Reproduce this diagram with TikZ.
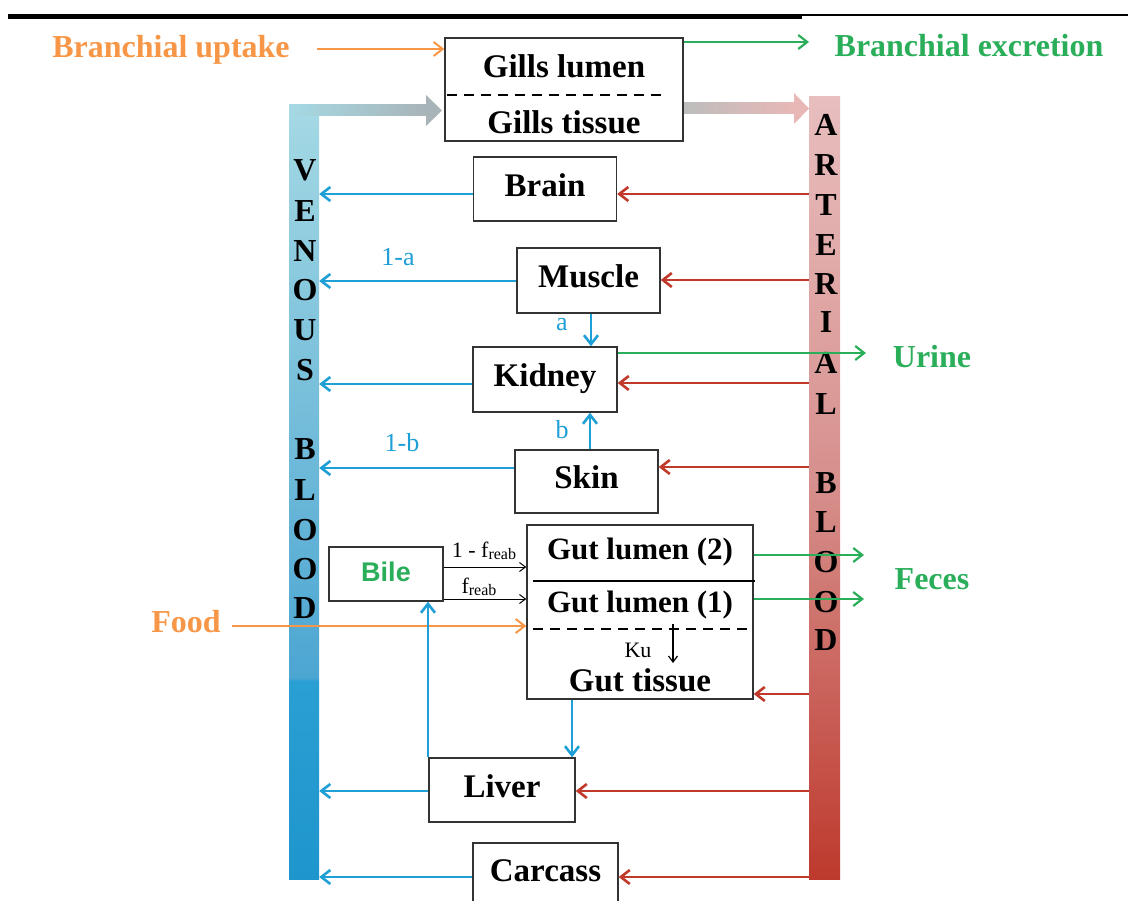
\documentclass[tikz,border=0pt]{standalone}
\usepackage{fontspec}
\setmainfont{Liberation Serif}
\newfontfamily\sansbf{Liberation Sans}
\usetikzlibrary{arrows.meta}
\definecolor{cblue}{HTML}{1E9FD6}
\definecolor{cred}{HTML}{C0392B}
\definecolor{cgreen}{HTML}{2BAE5A}
\definecolor{corange}{HTML}{F79646}
\definecolor{vt}{HTML}{A5D9E4}
\definecolor{vm}{HTML}{4CA6D2}
\definecolor{vl}{HTML}{2A9FD3}
\definecolor{vb}{HTML}{1E95CD}
\definecolor{at}{HTML}{E8BEBE}
\definecolor{am}{HTML}{D68F8C}
\definecolor{ab}{HTML}{BE392D}
\definecolor{gshaft}{HTML}{A8B4B8}
\definecolor{pshaft}{HTML}{BDBDBD}
\definecolor{pink}{HTML}{E8B8B6}
\definecolor{boxc}{HTML}{333333}
\pgfdeclareverticalshading{venshade}{100bp}{color(0bp)=(vb); color(25bp)=(vb); color(37.8bp)=(vl); color(38bp)=(vm); color(75bp)=(vt); color(100bp)=(vt)}
\pgfdeclareverticalshading{artshade}{100bp}{color(0bp)=(ab); color(25bp)=(ab); color(50bp)=(am); color(75bp)=(at); color(100bp)=(at)}
\newcommand\boxfont{\fontsize{33}{38}\selectfont\bfseries}
\newcommand\gutfont{\fontsize{31}{36}\selectfont\bfseries}
\newcommand\bigfont{\fontsize{32}{36}\selectfont\bfseries}
\newcommand\smallfont{\fontsize{26}{30}\selectfont}
\tikzset{
  box/.style={draw=boxc, line width=1.4, fill=white, inner sep=0pt, font=\boxfont, text depth=8pt},
  barr/.style={draw=cblue, line width=2.6, -{Straight Barb[length=9pt,width=14pt]}},
  rarr/.style={draw=cred, line width=2.6, -{Straight Barb[length=9pt,width=14pt]}},
  garr/.style={draw=cgreen, line width=2.2, -{Straight Barb[length=9pt,width=14pt]}},
  oarr/.style={draw=corange, line width=2, -{Straight Barb[length=9pt,width=14pt]}},
  karr/.style={draw=black, line width=1, -{Straight Barb[length=6pt,width=9pt]}},
  barletter/.style={font=\fontsize{32}{36}\selectfont\bfseries, inner sep=0pt},
  bluelbl/.style={text=cblue, font=\smallfont, inner sep=0pt},
  gutdash/.style={line width=1.8, dash pattern=on 10pt off 7pt},
}
\begin{document}
\begin{tikzpicture}[x=1pt,y=-1pt]
\useasboundingbox (0,0) rectangle (1128,901);
\clip (0,0) rectangle (1128,901);
% top rule
\fill (8,14) rectangle (802,19);
\fill (802,14) rectangle (1128,16.5);
% blood bars
\node[shading=venshade, minimum width=30, minimum height=774, inner sep=0pt] (venous) at (304,492) {};
\node[shading=artshade, minimum width=31, minimum height=782, inner sep=0pt] (arterial) at (824.5,488) {};
% thick arrows through the gills
\shade[left color=vt, right color=gshaft] (289,105) rectangle (427,116);
\fill[gshaft] (426,95) -- (442,110.5) -- (426,126) -- cycle;
\shade[left color=pshaft, right color=pink] (684,103) rectangle (795,114);
\fill[pink] (794,93) -- (809,108.5) -- (794,124) -- cycle;
% bar letters
\foreach \l/\y in {V/170,E/211,N/251,O/290,U/330,S/370,B/449,L/490,O/530,O/569,D/608}
  \node[barletter] at (305,\y) {\l};
\foreach \l/\y in {A/125,R/165,T/205,E/245,R/284,I/322,A/363,L/404,B/483,L/522,O/562,O/602,D/640}
  \node[barletter] at (826,\y) {\l};
% boxes
\node[box, minimum width=238, minimum height=103] (gills) at (564,89.5) {};
\node[font=\boxfont] (gl) at (564,66) {Gills lumen};
\node[font=\boxfont] (gt) at (564,122) {Gills tissue};
\draw[gutdash] (447,95) -- (665,95);
\node[box, minimum width=143, minimum height=64] (brain) at (545,189) {Brain};
\node[box, minimum width=143, minimum height=65] (muscle) at (588.5,280.5) {Muscle};
\node[box, minimum width=144, minimum height=65] (kidney) at (545,379.5) {Kidney};
\node[box, minimum width=143, minimum height=63] (skin) at (586.5,481.5) {Skin};
\node[box, minimum width=114, minimum height=54, font=\sansbf\fontsize{27}{30}\selectfont\bfseries, text=cgreen, text depth=4pt] (bile) at (386,574) {Bile};
\node[box, minimum width=226, minimum height=174] (gut) at (640,612) {};
\draw[line width=2] (533,581) -- (755,581);
\draw[gutdash] (533,629) -- (748,629);
\node[font=\gutfont] (glu2) at (640,552) {Gut lumen (2)};
\node[font=\gutfont] (glu1) at (640,605) {Gut lumen (1)};
\node[font=\fontsize{22}{26}\selectfont] (ku) at (638,650) {Ku};
\node[font=\boxfont] (gtis) at (640,680) {Gut tissue};
\node[box, minimum width=146, minimum height=64] (liver) at (502,790) {Liver};
\node[box, minimum width=145, minimum height=64] (carcass) at (545.5,875) {Carcass};
% outside labels
\node[text=corange, font=\bigfont] (bup) at (171,50) {Branchial uptake};
\node[text=cgreen, font=\bigfont] (bex) at (969,46) {Branchial excretion};
\node[text=cgreen, font=\bigfont] (urine) at (932,357) {Urine};
\node[text=cgreen, font=\bigfont] (feces) at (932,579) {Feces};
\node[text=corange, font=\bigfont] (food) at (186,622) {Food};
\coordinate (bexend) at (809,42);
\coordinate (urend) at (866,353);
\coordinate (fe2) at (864,555);
\coordinate (fe1) at (864,599);
\coordinate (kuA) at (673,624);
\coordinate (kuB) at (673,663);
% gills arrows
\draw[oarr] (317,49) -- (gills.west |- 0,49);
\draw[garr] (gills.east |- 0,42) -- (bexend);
% organ flows
\draw[barr] (brain.west |- 0,194) -- (venous.east |- 0,194);
\draw[rarr] (arterial.west |- 0,194) -- (brain.east |- 0,194);
\draw[barr] (muscle.west |- 0,281) -- (venous.east |- 0,281);
\node[bluelbl] at (398,257) {1-a};
\draw[rarr] (arterial.west |- 0,280) -- (muscle.east |- 0,280);
\draw[barr] (muscle.south -| 591,0) -- (kidney.north -| 591,0);
\node[bluelbl] at (562,325) {a};
\draw[barr] (kidney.west |- 0,384) -- (venous.east |- 0,384);
\draw[rarr] (arterial.west |- 0,383) -- (kidney.east |- 0,383);
\draw[garr] (kidney.east |- 0,353) -- (urend);
\draw[barr] (skin.north -| 590,0) -- (kidney.south -| 590,0);
\node[bluelbl] at (562,430) {b};
\draw[barr] (skin.west |- 0,468) -- (venous.east |- 0,468);
\node[bluelbl] at (402,443) {1-b};
\draw[rarr] (arterial.west |- 0,467) -- (skin.east |- 0,467);
% bile and gut
\draw[karr] (bile.east |- 0,567) -- (gut.west |- 0,567);
\node[font=\fontsize{22}{26}\selectfont, inner sep=0pt] at (484,551) {1 - f\raisebox{-2pt}{\fontsize{16}{18}\selectfont reab}};
\draw[karr] (bile.east |- 0,599) -- (gut.west |- 0,599);
\node[font=\fontsize{22}{26}\selectfont, inner sep=0pt] at (479,587) {f\raisebox{-2pt}{\fontsize{16}{18}\selectfont reab}};
\draw[oarr] (232,626) -- (gut.west |- 0,626);
\draw[garr] (gut.east |- 0,555) -- (fe2);
\draw[garr] (gut.east |- 0,599) -- (fe1);
\draw[karr, line width=1.2] (kuA) -- (kuB);
\draw[rarr] (arterial.west |- 0,694) -- (gut.east |- 0,694);
\draw[barr] (gut.south -| 572,0) -- (liver.north -| 572,0);
\draw[barr] (liver.north -| 428,0) -- (bile.south -| 428,0);
% liver and carcass
\draw[barr] (liver.west |- 0,791) -- (venous.east |- 0,791);
\draw[rarr] (arterial.west |- 0,791) -- (liver.east |- 0,791);
\draw[barr] (carcass.west |- 0,877) -- (venous.east |- 0,877);
\draw[rarr] (arterial.west |- 0,877) -- (carcass.east |- 0,877);
\end{tikzpicture}
\end{document}
